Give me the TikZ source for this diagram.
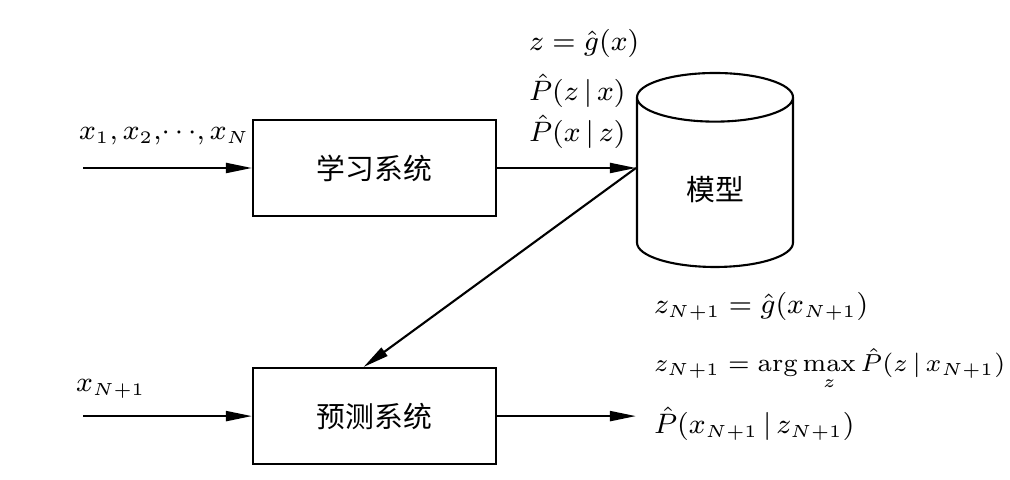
\documentclass[tikz,border=0pt]{standalone}
\usepackage{amsmath}
\usepackage{fontspec}
\newfontfamily\cjk{Noto Sans CJK SC}
\usetikzlibrary{arrows.meta,positioning,shapes.geometric}

\begin{document}
\begin{tikzpicture}[x=0.1mm,y=-0.1mm,line width=0.6pt,
    every node/.style={font=\fontsize{7.6}{9}\selectfont},
    sysbox/.style={draw,minimum width=2.43cm,minimum height=0.96cm,font=\cjk\fontsize{8.2}{10}\selectfont},
    lbl/.style={anchor=base west,inner sep=0pt},
    arr/.style={-{Triangle[length=2.6mm,width=1mm]}}]
    \useasboundingbox (0,0) rectangle (1010,480);
    \node[sysbox] (learn) at (374.5,168) {学习系统};
    \node[sysbox,below=1.5cm of learn] (pred) {预测系统};
    \node[draw,cylinder,shape border rotate=90,aspect=0.6,minimum width=1.56cm,minimum height=1.94cm,
      anchor=shape center,font=\cjk\fontsize{8.2}{10}\selectfont] (model) at (715,170) {模型};
    \coordinate (in1) at (83,168);
    \coordinate (in2) at (pred.west -| in1);
    \coordinate (mdin) at (learn.east -| model.west);
    \coordinate (out) at (pred.east -| model.west);
    \node[lbl] (xs) at (78,140) {$x_1,x_2,\!\cdots\!,x_N$};
    \node[lbl] (gx) at (528,51) {$z=\hat{g}(x)$};
    \node[lbl] (pzx) at (528,101) {$\hat{P}(z\,|\,x)$};
    \node[lbl] (pxz) at (528,142) {$\hat{P}(x\,|\,z)$};
    \node[lbl] (xn) at (75,392) {$x_{N+1}$};
    \node[lbl] (gn) at (653,314) {$z_{N+1}=\hat{g}(x_{N+1})$};
    \node[lbl,font=\fontsize{7.2}{9}\selectfont] (amax) at (653,372) {$z_{N+1}=\arg\max\limits_{z}\hat{P}(z\,|\,x_{N+1})$};
    \node[lbl] (pout) at (653,434) {$\hat{P}(x_{N+1}\,|\,z_{N+1})$};
    \draw[arr] (in1) -- (learn);
    \draw[arr] (learn.east) -- (mdin);
    \draw[arr] (mdin) -- ([xshift=-1.1mm]pred.north);
    \draw[arr] (in2) -- (pred.west);
    \draw[arr] (pred.east) -- (out);
  \end{tikzpicture}
\end{document}
